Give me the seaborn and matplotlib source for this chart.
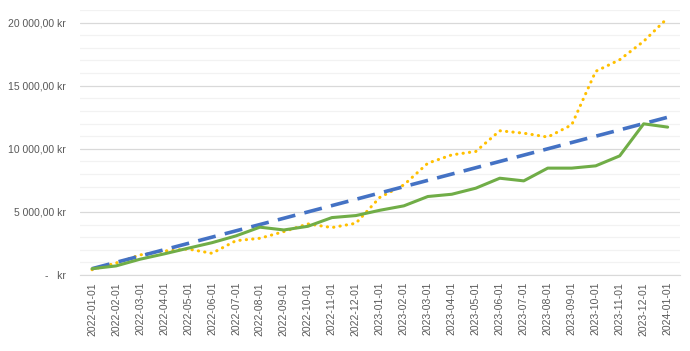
import numpy as np
import pandas as pd
import matplotlib
matplotlib.use("Agg")
import matplotlib.pyplot as plt
import seaborn as sns
from matplotlib.ticker import FuncFormatter, MultipleLocator

dates = pd.date_range("2022-01-01", "2024-01-01", freq="MS").strftime("%Y-%m-%d").tolist()

# dashed blue trend line
trend = [500, 1000, 1500, 2000, 2500, 3000, 3500, 4000, 4500, 5000, 5500, 6000, 6500,
         7000, 7500, 8000, 8500, 9000, 9500, 10000, 10500, 11000, 11500, 12000, 12500]
# solid green
green = [500, 720, 1250, 1670, 2120, 2560, 3100, 3790, 3570, 3860, 4550, 4710, 5130,
         5480, 6220, 6400, 6880, 7670, 7460, 8470, 8470, 8650, 9440, 11980, 11720]
# dotted yellow
yellow = [420, 950, 1590, 1900, 2060, 1720, 2720, 2910, 3440, 4050, 3760, 4100, 6150,
          7140, 8860, 9520, 9790, 11430, 11240, 10930, 11900, 16140, 17060, 18520, 20370]

df = pd.DataFrame({"i": range(len(dates)), "date": dates,
                   "trend": trend, "green": green, "yellow": yellow})

sns.set_style("white")
plt.rcParams["font.family"] = ["Liberation Sans", "DejaVu Sans"]

fig = plt.figure(figsize=(6.9, 3.51), dpi=100)
ax = fig.add_axes([0.116, 0.2165, 0.869, 0.755])

sns.lineplot(data=df, x="i", y="yellow", ax=ax, color="#FFC000", lw=2.2,
             linestyle=(0, (0.1, 2.0)), dash_capstyle="round")
sns.lineplot(data=df, x="i", y="trend", ax=ax, color="#4472C4", lw=2.6,
             linestyle=(0, (5, 2.6)))
sns.lineplot(data=df, x="i", y="green", ax=ax, color="#70AD47", lw=2.2)

ax.set_xlim(-0.5, len(dates) - 0.5)
ax.set_ylim(0, 21000)
ax.set_xticks(df["i"])
ax.set_xticklabels(dates, rotation=90, fontsize=7.5, color="#595959")

def kr(v, pos):
    if abs(v) < 1e-6:
        return "-   kr"
    return f"{v:,.2f}".replace(",", " ").replace(".", ",") + " kr"

ax.yaxis.set_major_locator(MultipleLocator(5000))
ax.yaxis.set_minor_locator(MultipleLocator(1000))
ax.yaxis.set_major_formatter(FuncFormatter(kr))
ax.tick_params(axis="y", labelsize=7.5, labelcolor="#595959", length=0, pad=10, which="both")
ax.tick_params(axis="x", length=0, pad=5)
ax.grid(axis="y", which="major", color="#D9D9D9", lw=0.9)
ax.grid(axis="y", which="minor", color="#F2F2F2", lw=0.9)
ax.set_axisbelow(True)
for s in ["top", "right", "left"]:
    ax.spines[s].set_visible(False)
ax.spines["bottom"].set_color("#D9D9D9")
ax.set_xlabel("")
ax.set_ylabel("")

fig.savefig("out.png", dpi=100)
